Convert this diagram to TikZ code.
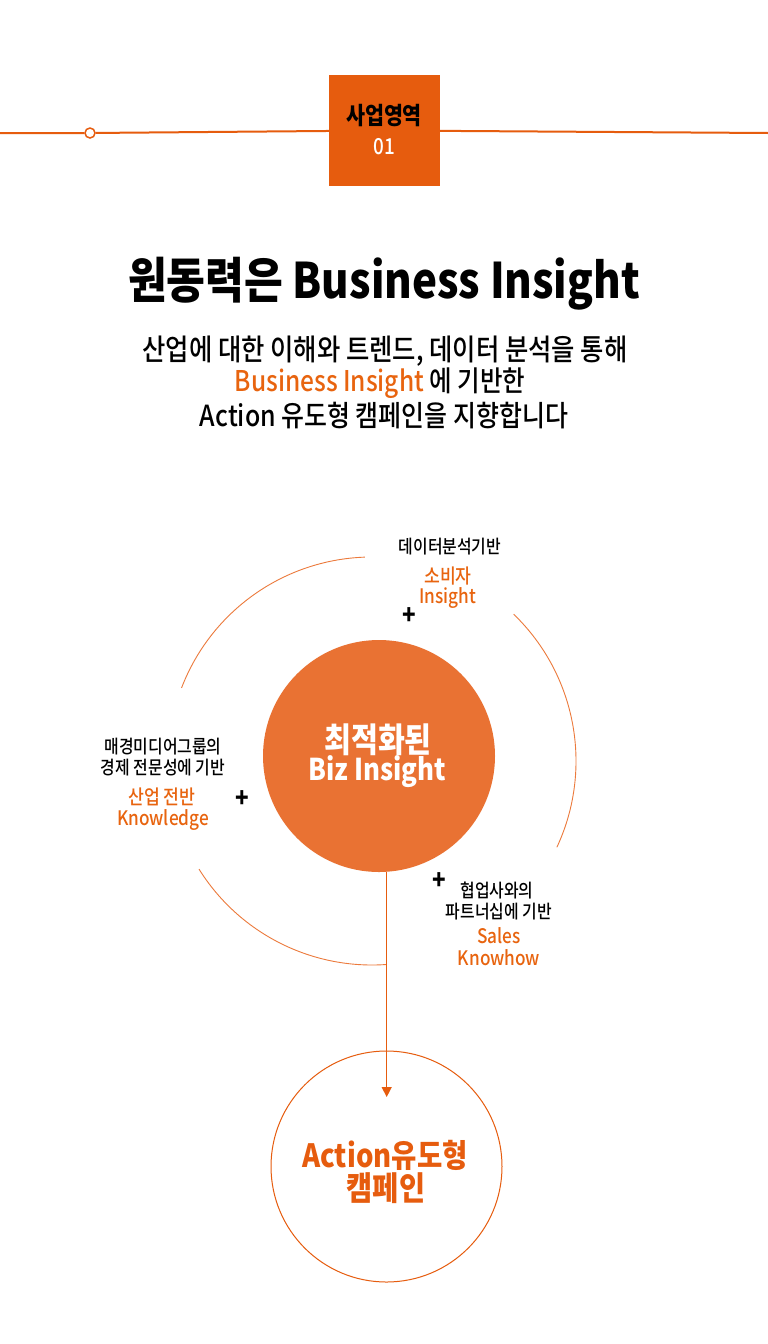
\documentclass[tikz,border=0pt]{standalone}
\usepackage{fontspec}
\setmainfont{Noto Sans CJK KR}[FakeStretch=0.86]
\newfontfamily\medf{Noto Sans CJK KR Medium}[FakeStretch=0.86]
\usetikzlibrary{arrows.meta,calc}
\definecolor{org}{HTML}{E65C0E}
\definecolor{circ}{HTML}{E97233}
\definecolor{otxt}{HTML}{E8640F}
\definecolor{arcc}{HTML}{EC7A3C}
\begin{document}
\begin{tikzpicture}[x=1pt,y=-1pt,
  txt/.style={inner sep=0pt, font=\fontsize{#1}{#1}\selectfont},
  mtxt/.style={inner sep=0pt, font=\fontsize{#1}{#1}\selectfont\medf},
  btxt/.style={inner sep=0pt, font=\fontsize{#1}{#1}\selectfont\bfseries},
  lbl/.style={mtxt=18.5, text=black},
  olbl/.style={mtxt=20, text=otxt},
  plus/.style={btxt=26, text=black},
  arcline/.style={draw=arcc, line width=0.9pt},
  conn/.style={draw=org, line width=1.3pt, -{Triangle[width=10pt,length=10pt]}}]
\useasboundingbox (0,0) rectangle (768,1344);
\fill[white] (0,0) rectangle (768,1344);
% header
\coordinate (L) at (0,133);
\coordinate (R) at (768,133);
\node[draw=org, fill=white, circle, line width=1.5pt, minimum size=10pt, inner sep=0pt] (dot) at (90,133) {};
\node[fill=org, minimum width=111pt, minimum height=111pt, inner sep=0pt] (box) at (384.5,130.5) {};
\draw[org, line width=2pt] (L) -- (dot) -- (box) -- (R);
\node[btxt=24] (hd1) at (384,116) {사업영역};
\node[mtxt=22, text=white] (hd2) at (384,147) {01};
% title
\node[btxt=49] (title) at (384,284) {원동력은 Business Insight};
\node[mtxt=29.5] (s1) at (385,351) {산업에 대한 이해와 트렌드, 데이터 분석을 통해};
\node[mtxt=28.5] (s2) at (380,383) {\textcolor{otxt}{Business Insight} 에 기반한};
\node[mtxt=29] (s3) at (384,416) {Action 유도형 캠페인을 지향합니다};
% center circle
\node[circle, fill=circ, minimum size=232pt, inner sep=0pt] (C) at (379,756) {};
\node[btxt=34, text=white] (c1) at (378,740) {최적화된};
\node[btxt=30, text=white] (c2) at (377,772) {Biz Insight};
% outer arcs
\coordinate (O) at (372,761);
\draw[arcline] ($(O)+(92:204pt)$) arc[start angle=92, end angle=159, radius=204pt];
\draw[arcline] ($(O)+(212:204pt)$) arc[start angle=212, end angle=274, radius=204pt];
\draw[arcline] ($(O)+(46:204pt)$) arc[start angle=46, end angle=-25, radius=204pt];
% bottom circle
\node[circle, draw=org, line width=1pt, minimum size=231pt, inner sep=0pt] (B) at (386.5,1166.5) {};
\node[btxt=32, text=org] (b1) at (385,1155) {Action유도형};
\node[btxt=33, text=org] (b2) at (386,1188) {캠페인};
\coordinate (A) at (386.7,1097);
\draw[conn] (A |- C.south) -- (A);
% top label
\node[lbl] (t1) at (450,547) {데이터분석기반};
\node[olbl] (t2) at (448,576) {소비자};
\node[olbl] (t3) at (448,598) {Insight};
\node[plus] (tp) at (409,616) {+};
% left label
\node[lbl] (l1) at (163,747) {매경미디어그룹의};
\node[lbl] (l2) at (163,768) {경제 전문성에 기반};
\node[olbl] (l3) at (162,797) {산업 전반};
\node[olbl] (l4) at (163,820) {Knowledge};
\node[plus] (lp) at (242,799) {+};
% right label
\node[plus] (rp) at (439,881) {+};
\node[lbl] (r1) at (497,890) {협업사와의};
\node[lbl] (r2) at (499,912) {파트너십에 기반};
\node[olbl] (r3) at (499,936) {Sales};
\node[olbl] (r4) at (499,958) {Knowhow};
\end{tikzpicture}
\end{document}
